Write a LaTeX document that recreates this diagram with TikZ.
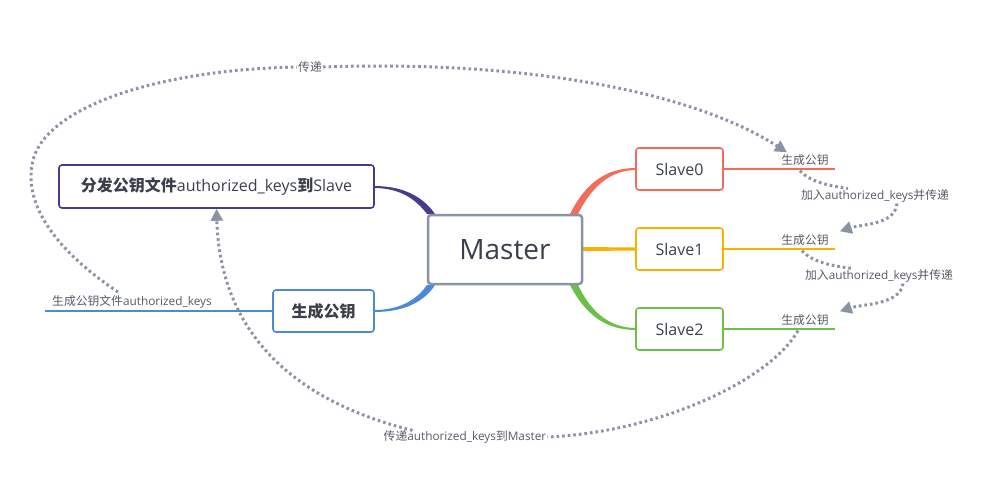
\documentclass[tikz,border=0pt]{standalone}
\usepackage{fontspec}
\setmainfont{Open Sans}
\newfontfamily\cjk{Noto Sans CJK SC}
\newcommand{\zh}[1]{{\cjk #1}}
\usetikzlibrary{arrows.meta}
\definecolor{mgray}{HTML}{8A93A6}
\definecolor{mpurple}{HTML}{4A3A8E}
\definecolor{mblue}{HTML}{4A8AD6}
\definecolor{mred}{HTML}{F26B5B}
\definecolor{morange}{HTML}{F7B200}
\definecolor{mgreen}{HTML}{6CC04A}
\definecolor{mtext}{HTML}{3A3F4B}
\definecolor{ltext}{HTML}{555A64}
\tikzset{
  box/.style={draw, rounded corners=3pt, fill=white, text=mtext, font=\fontsize{16}{18}\selectfont, inner sep=0pt},
  lbl/.style={text=ltext, font=\fontsize{11.8}{13}\selectfont, inner sep=1pt},
  flow/.style={draw=mgray, line width=3pt, dash pattern=on 2.6pt off 3pt},
  tip/.style={-{Triangle[length=12pt,width=12pt]}}
}
\begin{document}
\begin{tikzpicture}[x=1pt,y=-1pt]
\useasboundingbox (0,0) rectangle (998,483);

% branches from Master
\fill[mpurple] (374,186) .. controls (405,186) and (424,198) .. (435,214) -- (427,214) .. controls (417,201) and (402,188) .. (374,188) -- cycle;
\fill[mblue] (374,310) .. controls (402,310) and (418,298) .. (427,285) -- (435,285) .. controls (424,302) and (404,312) .. (374,312) -- cycle;
\fill[mred] (636,168) .. controls (605,168) and (585,184) .. (570,214) -- (578,214) .. controls (590,190) and (608,170) .. (636,170) -- cycle;
\fill[mgreen] (636,330) .. controls (605,330) and (585,314) .. (570,285) -- (578,285) .. controls (590,310) and (608,328) .. (636,328) -- cycle;
\fill[morange] (583,247) -- (636,247.5) -- (636,250.5) -- (583,251) -- cycle;

\node[box, draw=mgray, line width=2.5pt, minimum width=154pt, minimum height=69pt, font=\fontsize{28}{32}\selectfont] (master) at (505,249.5) {Master};
\node[box, draw=mpurple, line width=1.6pt, minimum width=315pt, minimum height=43pt] (fb) at (216.5,186.5) {\zh{\bfseries 分发公钥文件}authorized\_keys\zh{\bfseries 到}Slave};
\node[box, draw=mblue, line width=1.6pt, minimum width=101pt, minimum height=42pt] (gs) at (323.5,311) {\zh{\bfseries 生成公钥}};
\node[box, draw=mred, line width=1.6pt, minimum width=87pt, minimum height=42pt] (s0) at (679.5,169) {Slave0};
\node[box, draw=morange, line width=1.6pt, minimum width=87pt, minimum height=42pt] (s1) at (679.5,249) {Slave1};
\node[box, draw=mgreen, line width=1.6pt, minimum width=87pt, minimum height=42pt] (s2) at (679.5,329) {Slave2};

% leaf lines
\coordinate (e0) at (835,169);
\coordinate (e1) at (835,249);
\coordinate (e2) at (835,329);
\coordinate (eb) at (45,311);
\draw[mred, line width=1.5pt] (s0.east) -- (e0);
\draw[morange, line width=1.5pt] (s1.east) -- (e1);
\draw[mgreen, line width=1.5pt] (s2.east) -- (e2);
\draw[mblue, line width=1.5pt] (gs.west) -- (eb);

\node[lbl] (g0) at (805,160) {\zh{生成公钥}};
\node[lbl] (g1) at (805,240) {\zh{生成公钥}};
\node[lbl] (g2) at (805,320) {\zh{生成公钥}};
\node[lbl] (lb) at (132,302) {\zh{生成公钥文件}authorized\_keys};
\node[lbl] (cd) at (310,67) {\zh{传递}};
\node[lbl] (add0) at (875,196) {\zh{加入}authorized\_keys\zh{并传递}};
\node[lbl] (add1) at (879,276) {\zh{加入}authorized\_keys\zh{并传递}};
\node[lbl] (back) at (465,437) {\zh{传递}authorized\_keys\zh{到}Master};

% dotted flows
\coordinate (st) at (118,292);
\draw[flow] (st) .. controls (55,250) and (25,205) .. (32,165) .. controls (40,110) and (150,70) .. (cd.west);
\draw[flow, tip] (cd.east) .. controls (520,60) and (690,90) .. ([xshift=-18pt,yshift=1pt]g0.north);
\draw[flow] ([xshift=-5pt,yshift=-4pt]g0.south) .. controls (810,182) and (830,186) .. ([xshift=-27pt]add0.north);
\draw[flow, tip] ([xshift=22pt]add0.south) .. controls (895,225) and (862,224) .. ([xshift=10pt,yshift=2pt]g1.north east);
\draw[flow] ([xshift=-3pt,yshift=-4pt]g1.south) .. controls (812,262) and (832,266) .. ([xshift=-27pt]add1.north);
\draw[flow, tip] ([xshift=24pt]add1.south) .. controls (900,305) and (862,304) .. ([xshift=10pt,yshift=2pt]g2.north east);
\draw[flow] ([xshift=-7pt,yshift=-4pt]g2.south) .. controls (770,380) and (660,432) .. (back.east);
\draw[flow, tip] ([xshift=30pt,yshift=-1pt]back.north west) .. controls (290,400) and (220,330) .. (fb.south);
\end{tikzpicture}
\end{document}
